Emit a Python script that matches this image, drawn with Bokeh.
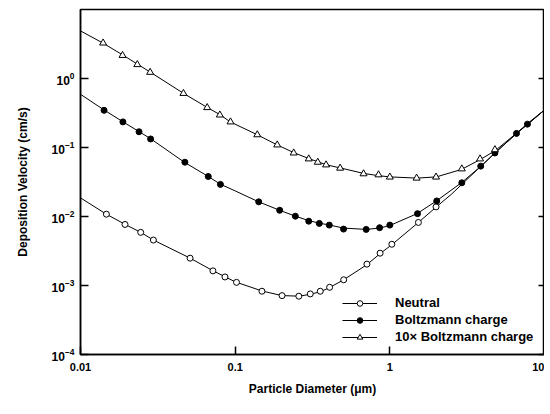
from bokeh.plotting import figure
from bokeh.models import (LogAxis, FixedTicker, CustomJSTickFormatter, Legend,
                          LegendItem)
from bokeh.embed import file_html
from bokeh.resources import INLINE

# ---------------- data ----------------
x_ticks = [0.01, 0.1, 1, 10]
y_ticks = [1e-4, 1e-3, 1e-2, 1e-1, 1]

# measured points
neutral_d = [0.0147, 0.0194, 0.0245, 0.0296, 0.0511, 0.0718, 0.0859, 0.102,
             0.149, 0.201, 0.258, 0.306, 0.355, 0.408, 0.503, 0.711, 0.865,
             1.03, 1.53, 1.99]
neutral_v = [0.0108, 0.00767, 0.00589, 0.00456, 0.00249, 0.00163, 0.00133,
             0.00111, 0.000826, 0.000713, 0.0007, 0.000755, 0.000826,
             0.000942, 0.00121, 0.00204, 0.00294, 0.00396, 0.0082, 0.0138]

boltz_d = [0.0142, 0.0188, 0.0239, 0.0284, 0.0473, 0.067, 0.0803, 0.142,
           0.194, 0.245, 0.299, 0.35, 0.406, 0.502, 0.703, 0.859, 1.0, 1.51,
           2.01, 2.92, 3.87, 4.78, 6.59, 7.76]
boltz_v = [0.346, 0.235, 0.169, 0.133, 0.0612, 0.038, 0.0292, 0.0163, 0.0123,
           0.0101, 0.00855, 0.00794, 0.0075, 0.00657, 0.0065, 0.00688, 0.0075,
           0.011, 0.0168, 0.0308, 0.0537, 0.0833, 0.16, 0.218]

boltz10_d = [0.014, 0.0187, 0.0233, 0.0282, 0.0463, 0.0659, 0.0796, 0.0933,
             0.139, 0.187, 0.239, 0.299, 0.342, 0.387, 0.477, 0.676, 0.845,
             1.0, 1.49, 1.99, 2.92, 3.83, 4.78]
boltz10_v = [3.27, 2.16, 1.59, 1.23, 0.608, 0.379, 0.296, 0.235, 0.153, 0.109,
             0.0833, 0.0684, 0.0612, 0.056, 0.0502, 0.0416, 0.0402, 0.0373,
             0.036, 0.0373, 0.049, 0.0684, 0.093]

# fitted curves (knots)
neutral_curve_d = [0.01, 0.0147, 0.0194, 0.0245, 0.0296, 0.051, 0.072, 0.086,
                   0.1, 0.15, 0.2, 0.26, 0.31, 0.36, 0.41, 0.5, 0.71, 0.865,
                   1.03, 1.53, 2.0, 2.5, 3.0, 3.9, 4.8, 6.6, 7.8, 10]
neutral_curve_v = [0.0186, 0.0108, 0.0077, 0.0059, 0.00456, 0.0025, 0.00163,
                   0.00134, 0.00113, 0.00083, 0.000715, 0.0007, 0.00075,
                   0.00082, 0.00094, 0.0012, 0.002, 0.0029, 0.0039, 0.0082,
                   0.0138, 0.021, 0.031, 0.054, 0.084, 0.16, 0.218, 0.35]

boltz_curve_d = [0.01, 0.0142, 0.0188, 0.0239, 0.0284, 0.047, 0.067, 0.08, 0.1,
                 0.142, 0.194, 0.245, 0.3, 0.35, 0.41, 0.5, 0.7, 0.86, 1.0,
                 1.5, 2.0, 2.9, 3.9, 4.8, 6.6, 7.8, 10]
boltz_curve_v = [0.59, 0.35, 0.236, 0.17, 0.134, 0.061, 0.038, 0.0295, 0.0235,
                 0.0163, 0.0123, 0.0101, 0.0087, 0.008, 0.0075, 0.0068, 0.0065,
                 0.0068, 0.0074, 0.011, 0.0168, 0.0308, 0.054, 0.084, 0.16,
                 0.218, 0.35]

boltz10_curve_d = [0.01, 0.014, 0.0187, 0.0233, 0.0282, 0.0463, 0.066, 0.08,
                   0.093, 0.139, 0.187, 0.24, 0.3, 0.39, 0.48, 0.68, 0.85, 1.0,
                   1.5, 2.0, 2.9, 3.8, 4.8, 6.5, 8.0, 10]
boltz10_curve_v = [4.9, 3.25, 2.2, 1.62, 1.24, 0.61, 0.38, 0.298, 0.235,
                   0.153, 0.109, 0.084, 0.069, 0.056, 0.0505, 0.042, 0.039,
                   0.0375, 0.036, 0.0375, 0.048, 0.066, 0.09, 0.157, 0.235,
                   0.35]

labels = ["Neutral", "Boltzmann charge", "10\u00d7 Boltzmann charge"]

FONT = "Liberation Sans"

p = figure(width=544, height=398, x_axis_type="log", y_axis_type="log",
           x_range=(0.01, 10), y_range=(1e-4, 10),
           output_backend="svg", toolbar_location=None,
           min_border_left=80, min_border_right=0, min_border_top=9,
           min_border_bottom=43)

p.grid.visible = False
p.outline_line_color = "black"
p.outline_line_width = 1.5
p.background_fill_color = "white"
p.border_fill_color = "white"

# x axis
xa = p.xaxis[0]
xa.ticker = FixedTicker(ticks=x_ticks, minor_ticks=[])
xa.formatter = CustomJSTickFormatter(code="return tick.toString();")
xa.axis_label = "Particle Diameter (\u03bcm)"
ya = p.yaxis[0]
ya.ticker = FixedTicker(ticks=y_ticks, minor_ticks=[])
ya.axis_label = "Deposition Velocity (cm/s)"

for ax in (xa, ya):
    ax.axis_line_color = "black"
    ax.axis_line_width = 1.5
    ax.major_tick_in = 8
    ax.major_tick_out = 0
    ax.major_tick_line_width = 1.5
    ax.minor_tick_line_color = None
    ax.major_label_text_font = FONT
    ax.major_label_text_font_style = "bold"
    ax.major_label_text_font_size = "11px"
    ax.major_label_text_color = "black"
    ax.axis_label_text_font = FONT
    ax.axis_label_text_font_style = "bold"
    ax.axis_label_text_font_size = "12px"
    ax.axis_label_text_color = "black"

ya.major_label_text_font_size = "12px"
xa.major_label_standoff = 8
xa.axis_label_standoff = 8
ya.major_label_standoff = 6
ya.axis_label_standoff = 19

# right axis with inward ticks only
ra = LogAxis(ticker=FixedTicker(ticks=y_ticks, minor_ticks=[]),
             formatter=CustomJSTickFormatter(code="return '';"),
             major_label_standoff=0,
             major_tick_in=6, major_tick_out=0, minor_tick_line_color=None,
             axis_line_width=1.5, major_tick_line_width=1.5)
p.add_layout(ra, "right")

# curves
l1 = p.line(neutral_curve_d, neutral_curve_v, line_color="black", line_width=1)
l2 = p.line(boltz_curve_d, boltz_curve_v, line_color="black", line_width=1)
l3 = p.line(boltz10_curve_d, boltz10_curve_v, line_color="black", line_width=1)

s1 = p.scatter(neutral_d, neutral_v, marker="circle", size=6,
               fill_color="white", line_color="black", line_width=1)
s2 = p.scatter(boltz_d, boltz_v, marker="circle", size=6,
               fill_color="black", line_color="black", line_width=1)
s3 = p.scatter(boltz10_d, boltz10_v, marker="triangle", size=7,
               fill_color="white", line_color="black", line_width=1)

legend = Legend(items=[LegendItem(label=labels[0], renderers=[l1, s1]),
                       LegendItem(label=labels[1], renderers=[l2, s2]),
                       LegendItem(label=labels[2], renderers=[l3, s3])],
                location=(262, 10), border_line_color=None,
                background_fill_alpha=0, glyph_width=35, glyph_height=14,
                label_height=14, spacing=2, padding=0, margin=0,
                label_standoff=18, label_text_font=FONT,
                label_text_font_style="bold", label_text_font_size="13px",
                label_text_color="black")
p.add_layout(legend)

open("out.html", "w").write(file_html(p, INLINE))
